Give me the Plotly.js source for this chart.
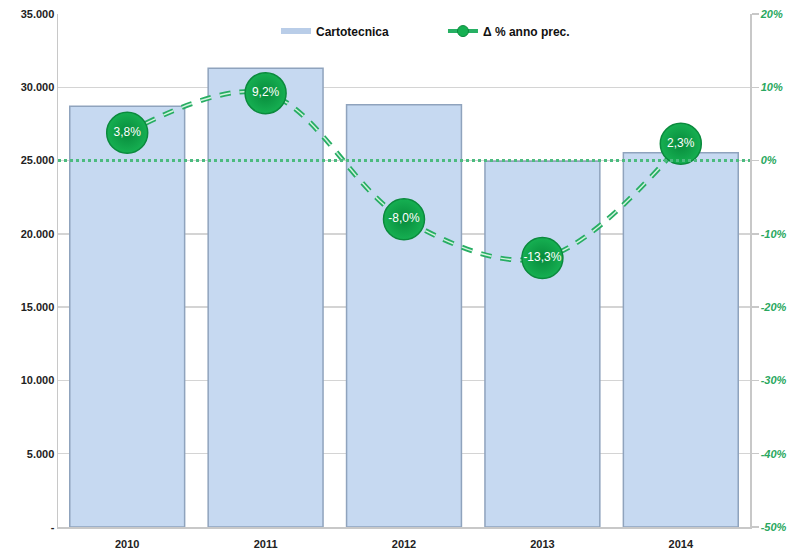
<!DOCTYPE html>
<html>
<head>
<meta charset="utf-8">
<script src="https://cdn.plot.ly/plotly-3.0.1.min.js"></script>
<style>html,body{margin:0;padding:0;background:#fff;}#chart{width:789px;height:553px;}</style>
</head>
<body>
<div id="chart"></div>
<script>
// Data
const years = ['2010', '2011', '2012', '2013', '2014'];
const cartotecnica = [28700, 31300, 28800, 24950, 25530];
const deltaPct = [3.8, 9.2, -8.0, -13.3, 2.3];
const deltaLabels = ['3,8%', '9,2%', '-8,0%', '-13,3%', '2,3%'];
const leftTickVals = [0, 5000, 10000, 15000, 20000, 25000, 30000, 35000];
const leftTickText = ['-', '5.000', '10.000', '15.000', '20.000', '25.000', '30.000', '35.000'];
const rightTickVals = [-50, -40, -30, -20, -10, 0, 10, 20];
const rightTickText = ['-50%', '-40%', '-30%', '-20%', '-10%', '0%', '10%', '20%'];

const green = '#16b052';
const lineGreen = '#27ad63';

const traces = [
  {
    type: 'bar', x: years, y: cartotecnica, name: 'Cartotecnica', yaxis: 'y',
    marker: {color: '#c6d9f1', line: {color: '#8fa3bd', width: 1.5}},
    showlegend: false, hoverinfo: 'skip'
  },
  // legend entries
  {
    type: 'scatter', mode: 'lines', x: [null], y: [null], yaxis: 'y', name: 'Cartotecnica',
    line: {color: '#b9cde8', width: 6}, hoverinfo: 'skip'
  },
  {
    type: 'scatter', mode: 'lines+markers', x: [null], y: [null], yaxis: 'y2', name: 'Δ % anno prec.',
    line: {color: '#27b064', width: 4},
    marker: {size: 11, color: green, line: {color: '#0b8a3d', width: 1}}, hoverinfo: 'skip'
  },
  {
    type: 'scatter', mode: 'lines', x: years, y: deltaPct, yaxis: 'y2',
    line: {color: lineGreen, width: 5, dash: '11px,9px', shape: 'spline'},
    showlegend: false, hoverinfo: 'skip'
  },
  {
    type: 'scatter', mode: 'lines', x: years, y: deltaPct, yaxis: 'y2',
    line: {color: '#d2f3df', width: 1.5, dash: '11px,9px', shape: 'spline'},
    showlegend: false, hoverinfo: 'skip'
  },
  {
    type: 'scatter', mode: 'markers+text', x: years, y: deltaPct, yaxis: 'y2',
    text: deltaLabels, textposition: 'middle center',
    textfont: {color: '#ffffff', size: 12, family: 'Liberation Sans Narrow, Arial Narrow, Liberation Sans, Arial, sans-serif'},
    marker: {size: 41, color: green, line: {color: '#0b8a3d', width: 1.5},
             gradient: {type: 'radial', color: '#078a3b'}},
    showlegend: false, hoverinfo: 'skip'
  }
];

const layout = {
  width: 789, height: 553,
  margin: {l: 58, r: 39, t: 14, b: 26},
  paper_bgcolor: '#ffffff', plot_bgcolor: '#ffffff',
  font: {family: 'Liberation Sans, Arial, sans-serif', color: '#333333'},
  bargap: 0.17,
  showlegend: true,
  legend: {
    orientation: 'h', x: 0.315, xanchor: 'left', y: 0.995, yanchor: 'top',
    font: {size: 12, color: '#111111', family: 'Liberation Sans, Arial, sans-serif', weight: 'bold'},
    bgcolor: 'rgba(255,255,255,0)', itemwidth: 30, entrywidth: 122, tracegroupgap: 0
  },
  xaxis: {
    type: 'category', showgrid: false, zeroline: false,
    showline: true, linecolor: '#c8c8c8', linewidth: 1.5,
    ticks: '', ticklabelstandoff: 6, tickfont: {size: 11, color: '#222222', weight: 'bold'}
  },
  yaxis: {
    range: [0, 35000], tickvals: leftTickVals, ticktext: leftTickText,
    showgrid: true, gridcolor: '#d4d4d4', gridwidth: 1.5, zeroline: false,
    showline: true, linecolor: '#c8c8c8', linewidth: 1.5,
    ticks: '', tickfont: {size: 11, color: '#222222', weight: 'bold'}
  },
  yaxis2: {
    overlaying: 'y', side: 'right', range: [-50, 20],
    tickvals: rightTickVals, ticktext: rightTickText,
    showgrid: false, zeroline: false,
    showline: true, linecolor: '#c8c8c8', linewidth: 1.5,
    ticks: 'outside', ticklen: 7, tickcolor: '#c8c8c8', tickwidth: 1.5,
    tickfont: {size: 11, color: '#2aa860', weight: 'bold', style: 'italic'}
  },
  shapes: [
    {type: 'line', xref: 'paper', yref: 'y2', x0: 0, x1: 1, y0: 0, y1: 0,
     line: {color: '#4cbb7f', width: 3, dash: 'dot'}, layer: 'above'}
  ]
};

Plotly.newPlot('chart', traces, layout, {displayModeBar: false, staticPlot: true});
</script>
</body>
</html>
